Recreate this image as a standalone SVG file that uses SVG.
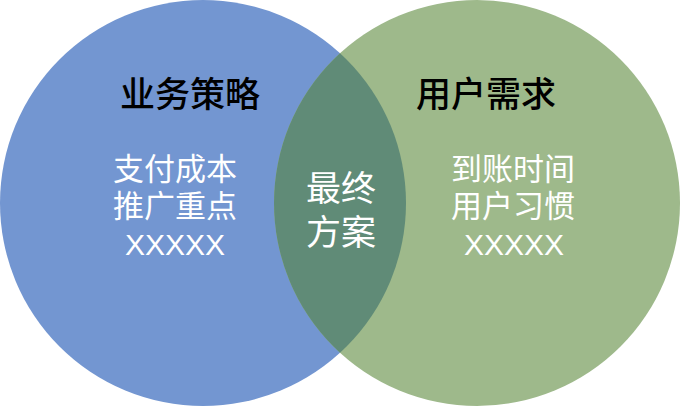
<svg xmlns="http://www.w3.org/2000/svg" width="680" height="406" viewBox="0 0 680 406">
<style>
.t{font-family:"Noto Sans CJK SC","Liberation Sans",sans-serif;text-anchor:middle}
.h{font-size:35px;fill:#000000;font-weight:500}
.w{font-size:31px;fill:#ffffff}
.c{font-size:35px;fill:#ffffff}
.x{font-family:"Liberation Sans",sans-serif;font-size:30px;fill:#ffffff;text-anchor:middle}
</style>
<defs>
<clipPath id="clipL"><circle cx="203" cy="203" r="203"/></clipPath>
</defs>
<g id="left">
<circle cx="203" cy="203" r="203" fill="#7396D1"/>
</g>
<g id="right">
<circle cx="477" cy="203" r="203" fill="#9EB98B"/>
</g>
<g id="overlap">
<circle cx="477" cy="203" r="203" fill="#608B77" clip-path="url(#clipL)"/>
</g>
<g id="connectors"></g>
<g id="labels-left">
<text class="t h" x="190" y="107">业务策略</text>
<text class="t w" x="175" y="180">支付成本</text>
<text class="t w" x="175" y="217">推广重点</text>
<text class="x" x="175" y="255">XXXXX</text>
</g>
<g id="labels-center">
<text class="t c" x="341" y="201">最终</text>
<text class="t c" x="341" y="245">方案</text>
</g>
<g id="labels-right">
<text class="t h" x="486" y="107">用户需求</text>
<text class="t w" x="513" y="180">到账时间</text>
<text class="t w" x="513" y="217">用户习惯</text>
<text class="x" x="514" y="255">XXXXX</text>
</g>
</svg>
